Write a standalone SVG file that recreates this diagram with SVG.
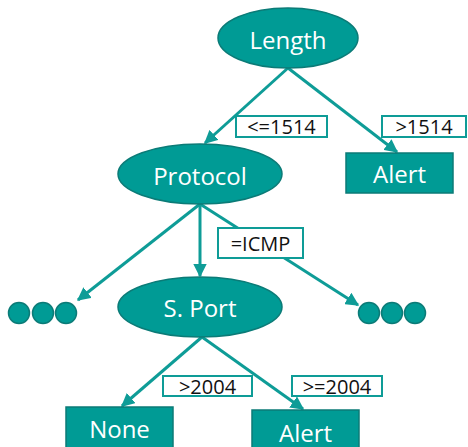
<svg xmlns="http://www.w3.org/2000/svg" width="468" height="447" viewBox="0 0 468 447">
<defs>
<marker id="ah" viewBox="0 0 10 10" refX="9" refY="5" markerWidth="4.5" markerHeight="4.5" orient="auto-start-reverse" markerUnits="strokeWidth">
<path d="M0,0 L10,5 L0,10 Z" fill="#0E9C97"/>
</marker>
<style>
.node{fill:#009B95;stroke:#0B7B77;stroke-width:1.5}
.nt{font-family:"Open Sans","Noto Sans",sans-serif;font-size:24px;fill:#ffffff;text-anchor:middle;dominant-baseline:central}
.lab{fill:#ffffff;stroke:#0E9C97;stroke-width:2}
.lt{font-family:"Open Sans","Noto Sans",sans-serif;font-size:20px;fill:#111111;text-anchor:middle;dominant-baseline:central}
.edge{stroke:#0E9C97;stroke-width:3;fill:none;marker-end:url(#ah)}
.dot{fill:#009B95;stroke:#0B7B77;stroke-width:1.5}
</style>
</defs>
<g id="connectors">
<line class="edge" x1="288" y1="68" x2="205" y2="143"/>
<line class="edge" x1="288" y1="68" x2="397" y2="152"/>
<line class="edge" x1="200" y1="204" x2="78" y2="300"/>
<line class="edge" x1="200" y1="204" x2="200" y2="276"/>
<line class="edge" x1="200" y1="204" x2="358" y2="305"/>
<line class="edge" x1="202" y1="337" x2="122" y2="406"/>
<line class="edge" x1="202" y1="337" x2="303" y2="409"/>
</g>
<g id="node-length"><ellipse class="node" cx="288" cy="38" rx="70" ry="30"/><text class="nt" x="288" y="39">Length</text></g>
<g id="node-protocol"><ellipse class="node" cx="200" cy="174" rx="82" ry="30"/><text class="nt" x="200" y="175">Protocol</text></g>
<g id="node-alert1"><rect class="node" x="346" y="153" width="107" height="40"/><text class="nt" x="399.5" y="173">Alert</text></g>
<g id="node-sport"><ellipse class="node" cx="200" cy="307" rx="82" ry="30"/><text class="nt" x="200" y="307">S. Port</text></g>
<g id="node-none"><rect class="node" x="66" y="407" width="107" height="44"/><text class="nt" x="119.5" y="428">None</text></g>
<g id="node-alert2"><rect class="node" x="252" y="410" width="107" height="44"/><text class="nt" x="305.5" y="432">Alert</text></g>
<g id="dots-left"><circle class="dot" cx="19" cy="313" r="10.5"/><circle class="dot" cx="43" cy="313" r="10.5"/><circle class="dot" cx="66" cy="313" r="10.5"/></g>
<g id="dots-right"><circle class="dot" cx="369" cy="313" r="10.5"/><circle class="dot" cx="392" cy="313" r="10.5"/><circle class="dot" cx="415" cy="313" r="10.5"/></g>
<g id="label-le1514"><rect class="lab" x="236" y="116" width="91" height="21"/><text class="lt" x="281.5" y="126.5">&lt;=1514</text></g>
<g id="label-gt1514"><rect class="lab" x="382" y="116" width="84" height="21"/><text class="lt" x="424" y="126.5">&gt;1514</text></g>
<g id="label-icmp"><rect class="lab" x="218" y="228" width="85" height="30"/><text class="lt" x="260.5" y="243">=ICMP</text></g>
<g id="label-gt2004"><rect class="lab" x="163" y="376" width="89" height="20"/><text class="lt" x="207.5" y="386">&gt;2004</text></g>
<g id="label-ge2004"><rect class="lab" x="292" y="376" width="90" height="20"/><text class="lt" x="337" y="386">&gt;=2004</text></g>
</svg>
